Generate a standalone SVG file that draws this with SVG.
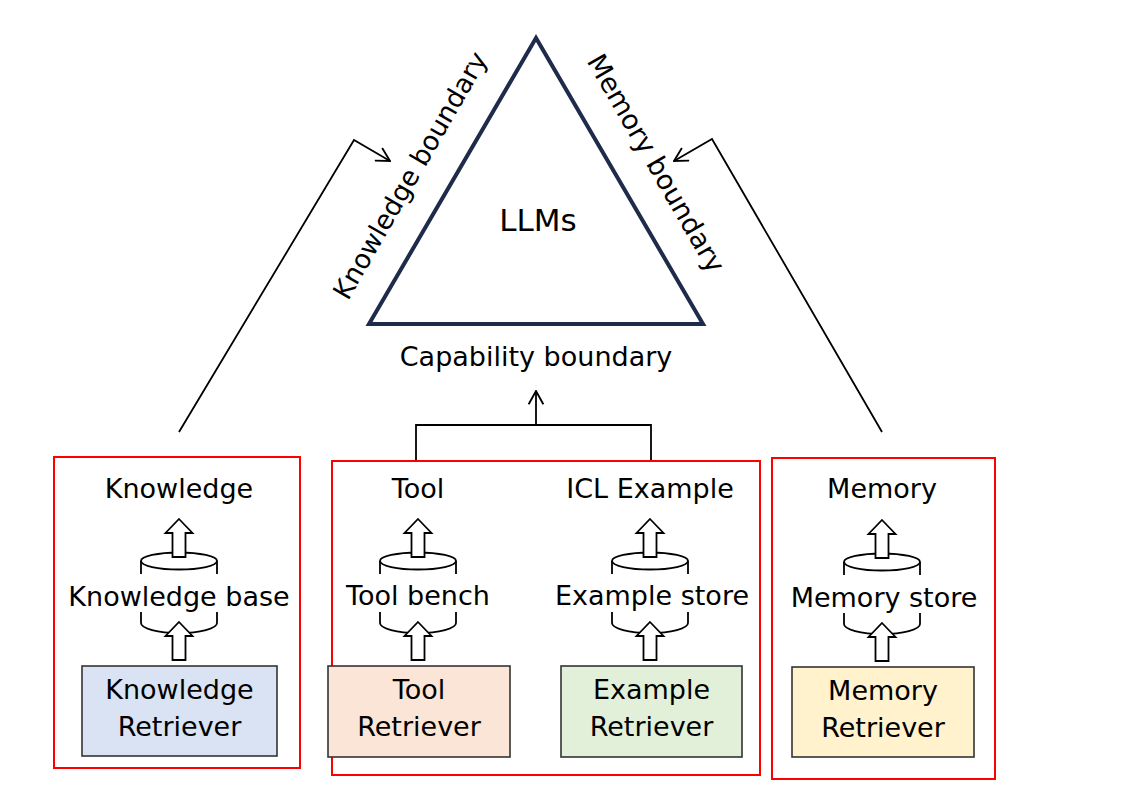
<svg xmlns="http://www.w3.org/2000/svg" width="1145" height="786" viewBox="0 0 1145 786">
<style>
text{font-family:"DejaVu Sans","Liberation Sans",sans-serif;fill:#000;text-anchor:middle}
.t27{font-size:27px}
.frame{fill:none;stroke:#ff0000;stroke-width:1.4;shape-rendering:crispEdges}
.ret{stroke:#333;stroke-width:1.6}
.ln{fill:none;stroke:#000;stroke-width:1.8}
.cyl{fill:none;stroke:#000;stroke-width:1.8}
.blk{fill:#fff;stroke:#000;stroke-width:1.8;stroke-linejoin:miter}
</style>
<defs>
<marker id="open" viewBox="0 0 12 12" refX="11" refY="6" markerWidth="16" markerHeight="16" markerUnits="userSpaceOnUse" orient="auto">
<path d="M1,0.5 L11,6 L1,11.5" fill="none" stroke="#000" stroke-width="1.4"/>
</marker>
<g id="cylinder">
<ellipse cx="0" cy="0" rx="38" ry="8.5" class="cyl"/>
<path d="M-38,0 V13 M38,0 V13" class="cyl"/>
<path d="M-38,51 V62 A38,10 0 0 0 38,62 V51" class="cyl"/>
</g>
<polygon id="blkarrow" points="0,0 13.5,14 6.5,14 6.5,38 -6.5,38 -6.5,14 -13.5,14" class="blk"/>
</defs>
<rect width="1145" height="786" fill="#fff"/>

<g id="llms">
<polygon points="536,38 369,324 703,324" fill="none" stroke="#1f2b4a" stroke-width="4"/>
<text x="538" y="231" style="font-size:31px">LLMs</text>
<text x="418" y="180" transform="rotate(-60 418 180)" style="font-size:26.5px">Knowledge boundary</text>
<text x="648" y="168" transform="rotate(60 648 168)" style="font-size:27px">Memory boundary</text>
<text x="536" y="366" style="font-size:27px">Capability boundary</text>
</g>

<g id="connectors">
<polyline points="179,432 354,140 390,161" class="ln" marker-end="url(#open)"/>
<polyline points="882,432 712,139 674,161" class="ln" marker-end="url(#open)"/>
<polyline points="416,461 416,425 651,425 651,461" class="ln"/>
<line x1="536" y1="425" x2="536" y2="391" class="ln" marker-end="url(#open)"/>
</g>

<g id="knowledge-group">
<rect x="54" y="457" width="246" height="311" class="frame"/>
<text x="179" y="498" class="t27">Knowledge</text>
<use href="#cylinder" x="179" y="561"/>
<text x="179" y="606" class="t27">Knowledge base</text>
<use href="#blkarrow" x="179" y="519"/>
<use href="#blkarrow" x="179" y="622"/>
<g id="knowledge-retriever">
<rect x="82" y="666" width="195" height="90" fill="#dae3f3" class="ret"/>
<text x="179.5" y="699" class="t27">Knowledge</text>
<text x="179.5" y="736" class="t27">Retriever</text>
</g>
</g>

<g id="tool-example-group">
<rect x="332" y="461" width="428" height="314" class="frame"/>
<text x="418" y="498" class="t27">Tool</text>
<use href="#cylinder" x="418" y="561"/>
<text x="418" y="605" class="t27">Tool bench</text>
<use href="#blkarrow" x="418" y="519"/>
<use href="#blkarrow" x="418" y="622"/>
<g id="tool-retriever">
<rect x="328" y="666" width="182" height="91" fill="#fbe5d6" class="ret"/>
<text x="419" y="699" class="t27">Tool</text>
<text x="419" y="736" class="t27">Retriever</text>
</g>
<text x="650" y="498" class="t27">ICL Example</text>
<use href="#cylinder" x="650" y="561"/>
<text x="652" y="605" class="t27">Example store</text>
<use href="#blkarrow" x="650" y="519"/>
<use href="#blkarrow" x="650" y="622"/>
<g id="example-retriever">
<rect x="561" y="666" width="181" height="91" fill="#e2f0d9" class="ret"/>
<text x="651.5" y="699" class="t27">Example</text>
<text x="651.5" y="736" class="t27">Retriever</text>
</g>
</g>

<g id="memory-group">
<rect x="772" y="458" width="223" height="321" class="frame"/>
<text x="882" y="498" class="t27">Memory</text>
<use href="#cylinder" x="882" y="562"/>
<text x="884" y="607" class="t27">Memory store</text>
<use href="#blkarrow" x="882" y="520"/>
<use href="#blkarrow" x="882" y="623"/>
<g id="memory-retriever">
<rect x="792" y="667" width="182" height="90" fill="#fff2cc" class="ret"/>
<text x="883" y="700" class="t27">Memory</text>
<text x="883" y="737" class="t27">Retriever</text>
</g>
</g>
</svg>
